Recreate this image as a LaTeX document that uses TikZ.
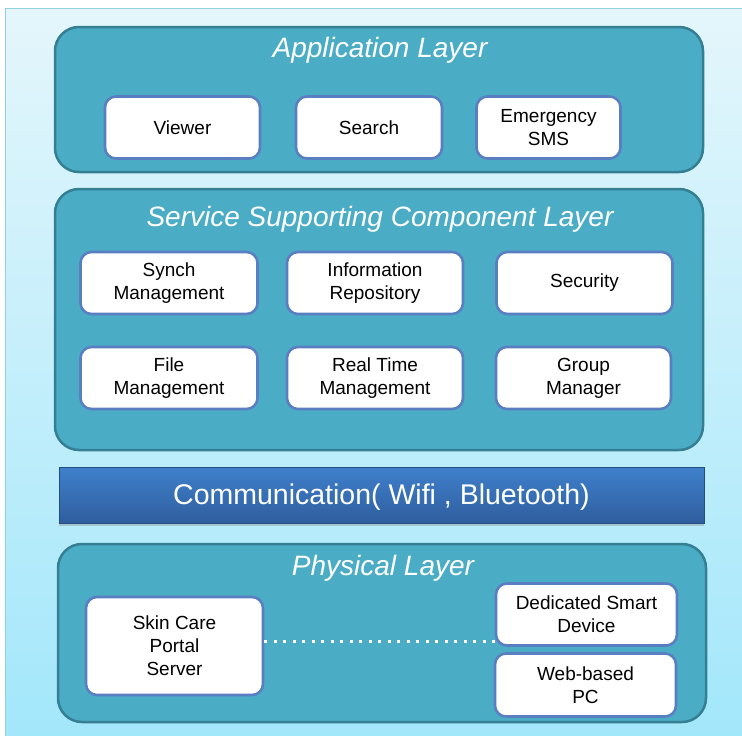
\documentclass[tikz,border=0pt]{standalone}
\usepackage{fontspec}
\setmainfont{Liberation Sans}
\usetikzlibrary{shadows,calc}

\definecolor{bgTop}{HTML}{E4F6FB}
\definecolor{bgBot}{HTML}{A3E7FB}
\definecolor{bgEdge}{HTML}{8FD0E2}
\definecolor{layerFill}{HTML}{4BACC6}
\definecolor{layerEdge}{HTML}{357F93}
\definecolor{boxEdge}{HTML}{5A7EC2}
\definecolor{barTop}{HTML}{3F80CC}
\definecolor{barBot}{HTML}{2F5E9E}

\tikzset{
  layer/.style={draw=layerEdge, fill=layerFill, line width=2.5pt, rounded corners=24pt},
  layertitle/.style={text=white, font=\fontsize{28}{32}\selectfont\itshape, inner sep=0pt},
  unit/.style={draw=boxEdge, fill=white, line width=2.6pt, rounded corners=11pt,
    align=center, font=\fontsize{19}{23}\selectfont, text=black, inner sep=0pt},
}

\begin{document}
\begin{tikzpicture}[x=1pt, y=-1pt]
\useasboundingbox (0,0) rectangle (742,736);
% backdrop
\fill[white] (0,0) rectangle (742,736);
\shade[top color=bgTop, bottom color=bgBot] (5,8) rectangle (742,736);
\draw[bgEdge, line width=1pt] (5.5,736) -- (5.5,8.5) -- (742,8.5);

% application layer
\draw[layer] (55,27) rectangle (703,172);
\node[layertitle] (apptitle) at (380,50.5) {Application Layer};
\node[unit, minimum width=155pt, minimum height=62pt] (viewer) at (182.5,127.5) {Viewer};
\node[unit, minimum width=146pt, minimum height=62pt] (search) at (369,127.5) {Search};
\node[unit, minimum width=144pt, minimum height=62pt] (sms) at (548.5,127.5) {Emergency\\SMS};

% service supporting component layer
\draw[layer] (55,189) rectangle (703,450);
\node[layertitle] (svctitle) at (380,219.5) {Service Supporting Component Layer};
\node[unit, minimum width=177pt, minimum height=62pt] (synch) at (169,283) {Synch\\Management};
\node[unit, minimum width=176pt, minimum height=62pt] (info) at (375,283) {Information\\Repository};
\node[unit, minimum width=176pt, minimum height=62pt] (security) at (584.5,283) {Security};
\node[unit, minimum width=177pt, minimum height=62pt] (file) at (169,378) {File\\Management};
\node[unit, minimum width=176pt, minimum height=62pt] (realtime) at (375,378) {Real Time\\Management};
\node[unit, minimum width=175pt, minimum height=62pt] (group) at (583.5,378) {Group\\Manager};

% communication bar
\shade[top color=barTop, bottom color=barBot, draw=barBot!80!black, line width=0.4pt,
  drop shadow={opacity=0.35, shadow xshift=0pt, shadow yshift=-3pt}]
  (59,467) rectangle (704,523);
\node[text=white, font=\fontsize{28.5}{32}\selectfont, inner sep=0pt] (comm) at (381.5,497.5)
  {Communication( Wifi , Bluetooth)};

% physical layer
\draw[layer] (58,544) rectangle (706,722);
\node[layertitle] (phytitle) at (383,568.5) {Physical Layer};
\node[unit, minimum width=177pt, minimum height=98pt] (server) at (174.5,646) {Skin Care\\Portal\\Server};
\node[unit, minimum width=181pt, minimum height=62pt] (device) at (586.5,614.5) {Dedicated Smart\\Device};
\node[unit, minimum width=181pt, minimum height=63pt] (pc) at (585.5,685) {Web-based\\PC};
\draw[white, line width=3pt, dash pattern=on 3pt off 6.5pt]
  (server.east |- 0,641) -- (device.west |- 0,641);
\end{tikzpicture}
\end{document}
